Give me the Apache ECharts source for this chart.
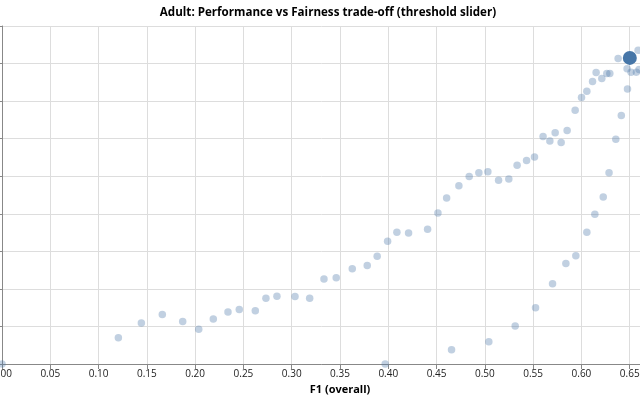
<!DOCTYPE html>
<html>
<head>
<meta charset="utf-8">
<script src="https://cdn.jsdelivr.net/npm/echarts@6/dist/echarts.min.js"></script>
<style>
  html, body { margin: 0; padding: 0; background: #fff; }
  #chart { width: 640px; height: 400px; }
</style>
</head>
<body>
<div id="chart"></div>
<script>
// Threshold sweep: overall F1 (x) vs fairness gap (y)
const f1Values = [
  0.0000, 0.1205, 0.1443, 0.1660, 0.1871, 0.2037, 0.2188, 0.2340, 0.2457, 0.2623,
  0.2733, 0.2847, 0.3034, 0.3186, 0.3334, 0.3461, 0.3627, 0.3782, 0.3885, 0.3993,
  0.4089, 0.4210, 0.4407, 0.4514, 0.4604, 0.4731, 0.4838, 0.4938, 0.5031, 0.5142,
  0.5248, 0.5334, 0.5432, 0.5514, 0.5603, 0.5673, 0.5728, 0.5790, 0.5852, 0.5935,
  0.6001, 0.6056, 0.6115, 0.6152, 0.6211, 0.6263, 0.6294, 0.6380, 0.6587,
  0.3968, 0.4655, 0.5041, 0.5314, 0.5525, 0.5701, 0.5839, 0.5942, 0.6056, 0.6139,
  0.6226, 0.6286, 0.6356, 0.6413, 0.6477, 0.6473, 0.6514, 0.6570, 0.6597
];
const gapValues = [
  0.0000, 0.0140, 0.0219, 0.0263, 0.0226, 0.0185, 0.0240, 0.0277, 0.0290, 0.0284,
  0.0350, 0.0361, 0.0359, 0.0350, 0.0453, 0.0459, 0.0507, 0.0524, 0.0574, 0.0654,
  0.0702, 0.0697, 0.0718, 0.0804, 0.0884, 0.0949, 0.0999, 0.1019, 0.1024, 0.0978,
  0.0985, 0.1058, 0.1084, 0.1102, 0.1211, 0.1188, 0.1232, 0.1179, 0.1243, 0.1351,
  0.1419, 0.1452, 0.1504, 0.1552, 0.1520, 0.1547, 0.1547, 0.1627, 0.1671,
  0.0000, 0.0076, 0.0119, 0.0203, 0.0299, 0.0427, 0.0535, 0.0576, 0.0702, 0.0798,
  0.0889, 0.1019, 0.1197, 0.1323, 0.1465, 0.1573, 0.1554, 0.1554, 0.1568
];
// Currently selected threshold
const selectedF1 = [0.6501];
const selectedGap = [0.1630];

const titleText = 'Adult: Performance vs Fairness trade-off (threshold slider)';
const xAxisTitle = 'F1 (overall)';

const sweepData = f1Values.map((v, i) => [v, gapValues[i]]);
const selectedData = selectedF1.map((v, i) => [v, selectedGap[i]]);

const chart = echarts.init(document.getElementById('chart'));
chart.setOption({
  animation: false,
  backgroundColor: '#ffffff',
  title: {
    text: titleText,
    left: 323,
    textAlign: 'center',
    top: 2,
    textStyle: { fontFamily: 'Open Sans', fontSize: 11.6, fontWeight: 'bold', color: '#000' }
  },
  grid: {
    left: 2,
    right: -38,
    top: 26,
    bottom: 36,
    containLabel: false,
    outerBoundsMode: 'none'
  },
  xAxis: {
    type: 'value',
    min: 0,
    max: 0.7,
    interval: 0.05,
    name: xAxisTitle,
    nameLocation: 'middle',
    nameGap: 19,
    nameTextStyle: { fontFamily: 'Open Sans', fontSize: 11, fontWeight: 'bold', color: '#000' },
    axisLine: { show: true, lineStyle: { color: '#888', width: 1 } },
    axisTick: { show: true, length: 5, lineStyle: { color: '#888' } },
    axisLabel: {
      margin: 5,
      fontFamily: 'Open Sans', fontSize: 10, color: '#222',
      formatter: v => v.toFixed(2)
    },
    splitLine: { show: true, lineStyle: { color: '#ddd', width: 1 } }
  },
  yAxis: {
    type: 'value',
    min: 0,
    max: 0.18,
    interval: 0.02,
    axisLine: { show: true, lineStyle: { color: '#888', width: 1 } },
    axisTick: { show: true, length: 5, lineStyle: { color: '#888' } },
    axisLabel: { show: false },
    splitLine: { show: true, lineStyle: { color: '#ddd', width: 1 } }
  },
  series: [
    {
      type: 'scatter',
      data: sweepData,
      symbolSize: 7.5,
      itemStyle: { color: '#4c78a8', opacity: 0.35 },
      clip: true,
      z: 2
    },
    {
      type: 'scatter',
      data: selectedData,
      symbolSize: 14,
      itemStyle: { color: '#4676a8', opacity: 1 },
      clip: true,
      z: 3
    }
  ]
});
</script>
</body>
</html>
